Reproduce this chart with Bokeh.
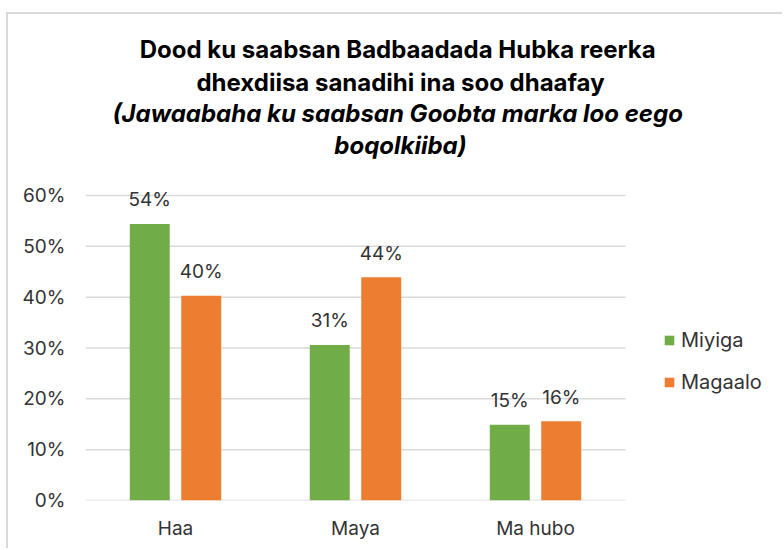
from bokeh.plotting import figure
from bokeh.models import (ColumnDataSource, Range1d, Legend, LegendItem, Label,
                          LabelSet, PrintfTickFormatter, FixedTicker)
from bokeh.core.properties import value
from bokeh.transform import dodge
from bokeh.embed import file_html
from bokeh.resources import INLINE

# ---- data ----
categories = ["Haa", "Maya", "Ma hubo"]
series_names = ["Miyiga", "Magaalo"]
miyiga = [54.4, 30.6, 14.9]
magaalo = [40.3, 43.9, 15.6]
y_ticks = [0, 10, 20, 30, 40, 50, 60]
title_lines = ["Dood ku saabsan Badbaadada Hubka  reerka",
               "dhexdiisa sanadihi ina soo dhaafay",
               "(Jawaabaha ku saabsan  Goobta marka loo eego",
               "boqolkiiba)"]
title_styles = ["bold", "bold", "bold italic", "bold italic"]

GREEN = "#70AD47"
ORANGE = "#ED7D31"
FONT = "Inter"
TXT = "#333333"

n = len(categories)
xpos = [i + 0.5 for i in range(n)]
src = ColumnDataSource(dict(
    x=xpos,
    miyiga=miyiga,
    magaalo=magaalo,
    miyiga_lbl=[f"{round(v)}%" for v in miyiga],
    magaalo_lbl=[f"{round(v)}%" for v in magaalo],
))

# ---- layout (pixels) ----
W, H = 776, 536
LEFT, BOTTOM = 77, 50
FRAME_W, FRAME_H = W - LEFT, H - BOTTOM
PX_PER_CAT = 180.0           # horizontal pixels per category
PX_PER_PCT = 305.0 / 60.0    # vertical pixels per percent
x_end = FRAME_W / PX_PER_CAT
y_end = FRAME_H / PX_PER_PCT

p = figure(width=W, height=H, x_range=Range1d(0, x_end), y_range=Range1d(0, y_end),
           output_backend="svg", toolbar_location=None,
           min_border_left=LEFT, min_border_right=0, min_border_top=0, min_border_bottom=BOTTOM)
p.outline_line_color = None
p.background_fill_color = "white"
p.border_fill_color = "white"
p.styles = {"margin-left": "6px", "margin-top": "12px",
            "border-left": "2px solid #d9d9d9", "border-top": "2px solid #d9d9d9"}

# gridlines only over the category area
p.xgrid.grid_line_color = None
p.ygrid.grid_line_color = None
p.segment(x0=[0] * len(y_ticks), x1=[n] * len(y_ticks), y0=y_ticks, y1=y_ticks,
          line_color="#d9d9d9", line_width=1.5)

off = 0.143
w = 0.222
r1 = p.vbar(x=dodge("x", -off), top="miyiga", width=w, source=src,
            fill_color=GREEN, line_color=None)
r2 = p.vbar(x=dodge("x", off), top="magaalo", width=w, source=src,
            fill_color=ORANGE, line_color=None)

for col, lbl, o in (("miyiga", "miyiga_lbl", -off), ("magaalo", "magaalo_lbl", off)):
    ls = LabelSet(x=dodge("x", o), y=col, text=lbl, source=src,
                  text_align="center", text_baseline="middle", y_offset=24,
                  text_font=value(FONT), text_font_size="19px", text_color=TXT)
    p.add_layout(ls)

# axes
p.yaxis.ticker = FixedTicker(ticks=y_ticks)
p.yaxis.formatter = PrintfTickFormatter(format="%d%%")
p.yaxis.axis_line_color = None
p.yaxis.major_tick_line_color = None
p.yaxis.minor_tick_line_color = None
p.yaxis.major_tick_out = 0
p.yaxis.major_tick_in = 0
p.yaxis.major_label_standoff = 20
p.yaxis.major_label_text_font = FONT
p.yaxis.major_label_text_font_size = "19px"
p.yaxis.major_label_text_color = TXT

p.xaxis.ticker = FixedTicker(ticks=xpos)
p.xaxis.major_label_overrides = {x: c for x, c in zip(xpos, categories)}
p.xaxis.axis_line_color = None
p.xaxis.major_tick_line_color = None
p.xaxis.minor_tick_line_color = None
p.xaxis.major_tick_out = 0
p.xaxis.major_tick_in = 0
p.xaxis.major_label_standoff = 16
p.xaxis.major_label_text_font = FONT
p.xaxis.major_label_text_font_size = "19px"
p.xaxis.major_label_text_color = TXT

# title lines, placed above the plotting area (centre at 400px, baselines in percent units)
title_x = (400 - 85) / PX_PER_CAT
title_px_y = [49, 82, 113, 145]
for txt, st, py in zip(title_lines, title_styles, title_px_y):
    p.add_layout(Label(x=title_x, y=(500 - py) / PX_PER_PCT, text=txt,
                       text_align="center", text_baseline="middle",
                       text_font=FONT, text_font_size="24px",
                       text_font_style=st, text_color="black"))

legend = Legend(items=[LegendItem(label=series_names[0], renderers=[r1]),
                       LegendItem(label=series_names[1], renderers=[r2])],
                location=(578, 106), orientation="vertical",
                glyph_width=12, glyph_height=12, label_text_font=FONT,
                label_text_font_size="20px", label_text_color=TXT,
                label_height=20, spacing=18, label_standoff=6,
                border_line_color=None, background_fill_alpha=0)
p.add_layout(legend, "center")

open("out.html", "w").write(file_html(p, INLINE))
